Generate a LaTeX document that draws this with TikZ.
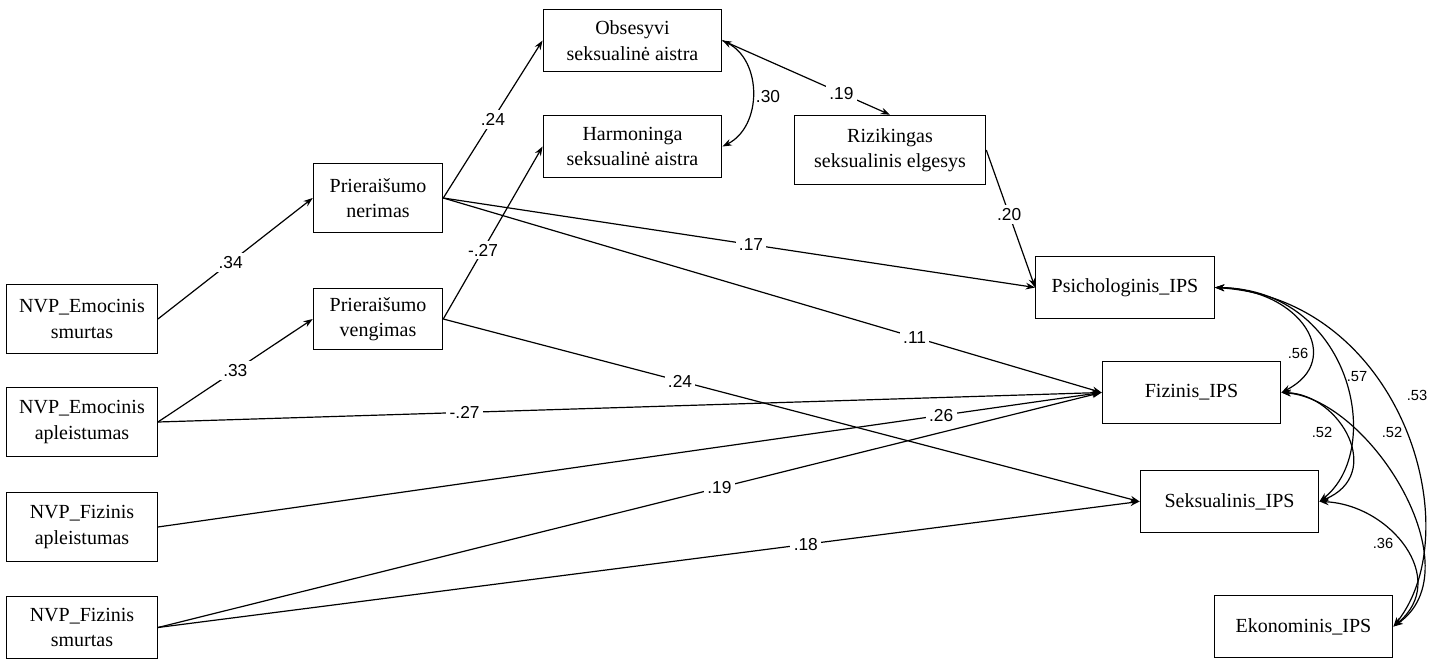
\documentclass[tikz,border=0pt]{standalone}
\usepackage{fontspec}
\setmainfont{Liberation Serif}
\newfontfamily\boxfont{Liberation Serif}
\newfontfamily\coeffont{Liberation Sans}
\usetikzlibrary{arrows.meta}

\tikzset{every picture/.style={line width=0.9pt}}
\tikzset{
  varbox/.style={draw, align=center, inner sep=0pt, font=\boxfont\fontsize{15}{19}\selectfont},
  leftbox/.style={varbox, minimum width=113pt, minimum height=52pt},
  midbox/.style={varbox, minimum width=97pt},
  widebox/.style={varbox, minimum width=134pt, minimum height=47pt},
  coef/.style={fill=white, inner sep=2.5pt, font=\coeffont\fontsize{13}{13}\selectfont},
  covcoef/.style={inner sep=1pt, font=\coeffont\fontsize{13}{13}\selectfont},
  smallcoef/.style={inner sep=1pt, font=\coeffont\fontsize{11}{11}\selectfont},
  arr/.style={-{Stealth[length=7pt,width=5pt]}},
  cov/.style={{Stealth[length=7pt,width=5pt]}-{Stealth[length=7pt,width=5pt]}}
}

\begin{document}
\begin{tikzpicture}[x=0.75pt,y=0.75pt,yscale=-1,xscale=1]
	\useasboundingbox (0,0) rectangle (1442,660);

	% Text Node
	\node [leftbox] (es) at (82,319) {NVP\_Emocinis\\smurtas};
	% Text Node
	\node [leftbox] (ea) at (82,422) {NVP\_Emocinis\\apleistumas};
	% Text Node
	\node [leftbox] (fa) at (82,527) {NVP\_Fizinis\\apleistumas};
	% Text Node
	\node [leftbox, minimum height=47pt] (fs) at (82,627.5) {NVP\_Fizinis\\smurtas};
	% Text Node
	\node [midbox, minimum height=52pt] (pn) at (378,198) {Prieraišumo\\nerimas};
	% Text Node
	\node [midbox, minimum height=46pt] (pv) at (378,319) {Prieraišumo\\vengimas};
	% Text Node
	\node [widebox] (os) at (632.5,40.5) {Obsesyvi\\seksualinė aistra};
	% Text Node
	\node [widebox] (ha) at (632.5,146.5) {Harmoninga\\seksualinė aistra};
	% Text Node
	\node [widebox, minimum width=143.5pt, minimum height=52pt] (ri) at (890,150) {Rizikingas\\seksualinis elgesys};
	% Text Node
	\node [widebox] (ps) at (1125,287.5) {Psichologinis\_IPS};
	% Text Node
	\node [widebox] (fi) at (1191.5,392.5) {Fizinis\_IPS};
	% Text Node
	\node [widebox] (se) at (1229.5,501.5) {Seksualinis\_IPS};
	% Text Node
	\node [widebox] (ek) at (1303.5,626.5) {Ekonominis\_IPS};

	%Straight Lines
	\draw [arr] (es.east) -- node [coef, pos=0.47] {.34} (pn.west);
	\draw [arr] (ea.east) -- node [coef, pos=0.5] {.33} (pv.west);
	\draw [arr] (ea.east) -- node [coef, pos=0.325] {-.27} (fi.west);
	\draw [arr] (fa.east) -- node [coef, pos=0.83] {.26} (fi.west);
	\draw [arr] (fs.east) -- node [coef, pos=0.595] {.19} (fi.west);
	\draw [arr] (fs.east) -- node [coef, pos=0.66] {.18} (se.west);
	\draw [arr] (pn.east) -- node [coef, pos=0.5] {.24} (os.west);
	\draw [arr] (pn.east) -- node [coef, pos=0.52] {.17} (ps.west);
	\draw [arr] (pn.east) -- node [coef, pos=0.716] {.11} (fi.west);
	\draw [arr] (pv.east) -- node [coef, pos=0.4] {-.27} (ha.west);
	\draw [arr] (pv.east) -- node [coef, pos=0.34] {.24} (se.west);
	\draw [arr] (os.east) -- node [coef, pos=0.71] {.19} (ri.north);
	\draw [arr] (ri.east) -- node [coef, pos=0.47] {.20} (ps.west);

	%Curve Lines
	\draw [cov] (os.east) .. controls +(40,20) and +(40,-20) .. (ha.east);
	\draw [cov] (ps.east) .. controls +(86,2) and +(64,-33) .. (fi.east);
	\draw [cov] (ps.east) .. controls +(136,2) and +(66,-52) .. (se.east);
	\draw [cov] (ps.east) .. controls +(186,12) and +(77,-97) .. (ek.east);
	\draw [cov] (fi.east) .. controls +(59,2) and +(66,-27) .. (se.east);
	\draw [cov] (fi.east) .. controls +(89,7) and +(82,-57) .. (ek.east);
	\draw [cov] (se.east) .. controls +(71,3) and +(57,-47) .. (ek.east);

	% Text Node
	\node [covcoef] (r30) at (768,97) {.30};
	% Text Node
	\node [smallcoef] (r56) at (1298,353) {.56};
	% Text Node
	\node [smallcoef] (r57) at (1357,377) {.57};
	% Text Node
	\node [smallcoef] (r53) at (1417,395) {.53};
	% Text Node
	\node [smallcoef] (r52a) at (1322,432) {.52};
	% Text Node
	\node [smallcoef] (r52b) at (1392,432) {.52};
	% Text Node
	\node [smallcoef] (r36) at (1383,543) {.36};

\end{tikzpicture}
\end{document}
